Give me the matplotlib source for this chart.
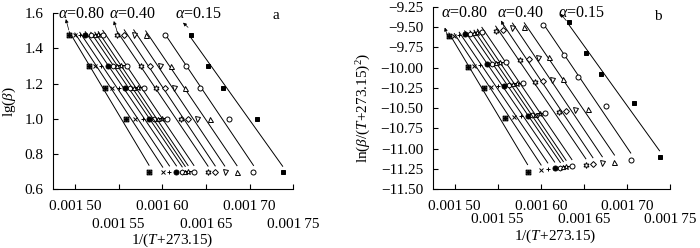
#!/usr/bin/env python
# Kinetic plots: lg(beta) and ln(beta/T^2) against 1/T for several conversions

import matplotlib
matplotlib.use('Agg')
import matplotlib.pyplot as plt
import numpy as np
from matplotlib.path import Path

plt.rcParams['font.family'] = ['Liberation Serif', 'DejaVu Serif']
plt.rcParams['mathtext.fontset'] = 'custom'
plt.rcParams['mathtext.rm'] = 'Liberation Serif'
plt.rcParams['mathtext.it'] = 'Liberation Serif:italic'

# Data
beta = np.array([30, 20, 15, 10, 5])   # heating rates

# 1/(T+273.15) for each conversion, rows in the order of beta
inv_T_080 = [0.0014934, 0.0015160, 0.0015337, 0.0015584, 0.0015847]
inv_T_075 = [0.0014997, 0.0015231, 0.0015426, 0.0015687, 0.0016004]
inv_T_070 = [0.0015054, 0.0015300, 0.0015503, 0.0015775, 0.0016081]
inv_T_065 = [0.0015117, 0.0015380, 0.0015572, 0.0015852, 0.0016161]
inv_T_060 = [0.0015180, 0.0015437, 0.0015626, 0.0015903, 0.0016227]
inv_T_055 = [0.0015226, 0.0015477, 0.0015678, 0.0015945, 0.0016262]
inv_T_050 = [0.0015266, 0.0015523, 0.0015721, 0.0015993, 0.0016294]
inv_T_045 = [0.0015317, 0.0015598, 0.0015789, 0.0016052, 0.0016361]
inv_T_040 = [0.0015477, 0.0015760, 0.0015932, 0.0016208, 0.0016523]
inv_T_035 = [0.0015563, 0.0015859, 0.0016027, 0.0016290, 0.0016605]
inv_T_030 = [0.0015672, 0.0015970, 0.0016132, 0.0016399, 0.0016714]
inv_T_025 = [0.0015809, 0.0016096, 0.0016256, 0.0016551, 0.0016855]
inv_T_020 = [0.0016027, 0.0016271, 0.0016433, 0.0016762, 0.0017044]
inv_T_015 = [0.0016330, 0.0016527, 0.0016695, 0.0017083, 0.0017378]

# staggered tick labels: upper row and lower row
x_ticks_up = [0.00150, 0.00160, 0.00170]
x_labels_up = ['0.001\u200950', '0.001\u200960', '0.001\u200970']
x_ticks_low = [0.00155, 0.00165, 0.00175]
x_labels_low = ['0.001\u200955', '0.001\u200965', '0.001\u200975']
ya_ticks = [0.6, 0.8, 1.0, 1.2, 1.4, 1.6]
yb_ticks = [-11.50, -11.25, -11.00, -10.75, -10.50, -10.25, -10.00,
            -9.75, -9.50, -9.25]


def boxed_star():
    '''square with an asterisk inside'''
    verts = [(-1, -1), (1, -1), (1, 1), (-1, 1), (-1, -1),
             (-1, -1), (1, 1), (-1, 1), (1, -1),
             (0, -1), (0, 1), (-1, 0), (1, 0)]
    codes = [Path.MOVETO, Path.LINETO, Path.LINETO, Path.LINETO, Path.CLOSEPOLY,
             Path.MOVETO, Path.LINETO, Path.MOVETO, Path.LINETO,
             Path.MOVETO, Path.LINETO, Path.MOVETO, Path.LINETO]
    return Path(verts, codes)


# (data, marker, filled, size)
series = [
    (inv_T_080, boxed_star(), False, 3.4),
    (inv_T_075, 'x', False, 3.4),
    (inv_T_070, '+', False, 3.4),
    (inv_T_065, 'o', True, 3.6),
    (inv_T_060, 'h', False, 3.6),
    (inv_T_055, '^', False, 3.0),
    (inv_T_050, '*', False, 4.4),
    (inv_T_045, 'o', False, 3.6),
    (inv_T_040, (6, 1, 0), False, 4.2),
    (inv_T_035, 'D', False, 3.0),
    (inv_T_030, 'v', False, 3.6),
    (inv_T_025, '^', False, 3.6),
    (inv_T_020, 'o', False, 3.6),
    (inv_T_015, 's', True, 3.3),
]


def plotparams(ax, low_pad):
    for side in ['top', 'right']:
        ax.spines[side].set_visible(False)
    for side in ['left', 'bottom']:
        ax.spines[side].set_linewidth(0.8)
    ax.tick_params(which='both', direction='in', length=3.5, width=0.8,
                   labelsize=11)
    ax.tick_params(axis='x', which='major', pad=8)
    ax.tick_params(axis='x', which='minor', pad=low_pad)
    ax.tick_params(axis='y', pad=7)
    ax.set_xlim(0.001475, 0.00175)
    ax.set_xticks(x_ticks_up)
    ax.set_xticklabels(x_labels_up)
    ax.set_xticks(x_ticks_low, minor=True)
    ax.set_xticklabels(x_labels_low, minor=True)
    return ax


def draw_series(ax, ycalc):
    for xs, mk, filled, ms in series:
        x = np.array(xs)
        y = ycalc(x)
        k, b = np.polyfit(x, y, 1)
        xl = np.array([x.min(), x.max()])
        ax.plot(xl, k * xl + b, color='black', lw=0.7)
        ax.plot(x, y, ls='none', marker=mk, ms=ms, mew=0.7,
                mec='black', mfc='black' if filled else 'white')


fig = plt.figure(figsize=(7, 2.48), dpi=100)
ax_a = fig.add_axes([0.0761, 0.2367, 0.3429, 0.7097])
ax_b = fig.add_axes([0.6186, 0.2379, 0.3386, 0.7339])

# Panel a
plotparams(ax_a, 21)
draw_series(ax_a, lambda x: np.log10(beta))
ax_a.set_ylim(0.6, 1.6)
ax_a.set_yticks(ya_ticks)
ax_a.set_yticklabels(['%.1f' % v for v in ya_ticks])
ax_a.set_ylabel(r'lg($\beta$)', fontsize=11)
ax_a.yaxis.label.set_va('center')
ax_a.yaxis.set_label_coords(-0.185, 0.5)
ax_a.set_xlabel(r'1/($T$+273.15)', fontsize=11)
ax_a.xaxis.label.set_va('center')
ax_a.xaxis.set_label_coords(0.497, -0.29)
ax_a.text(0.0017306, 1.585, 'a', fontsize=11, ha='center', va='center')
for txt, tx, hx, hy, sx, sy in [(r'$\alpha$=0.80', 0.0015071, 0.0014894, 1.567, 0.0014928, 1.505),
                                 (r'$\alpha$=0.40', 0.0015655, 0.0015443, 1.556, 0.0015477, 1.505),
                                 (r'$\alpha$=0.15', 0.0016417, 0.0016237, 1.547, 0.0016294, 1.520)]:
    ax_a.text(tx, 1.596, txt, fontsize=11.5, ha='center', va='center')
    ax_a.annotate('', xy=(hx, hy), xytext=(sx, sy),
                  arrowprops=dict(arrowstyle='-|>', lw=0.5, color='black',
                                  mutation_scale=5, shrinkA=0, shrinkB=0))

# Panel b
plotparams(ax_b, 17)
draw_series(ax_b, lambda x: np.log(beta * x ** 2))
ax_b.set_ylim(-11.5, -9.25)
ax_b.set_yticks(yb_ticks)
ax_b.set_yticklabels(['\u2212%.2f' % abs(v) for v in yb_ticks])
ax_b.set_ylabel(r'ln($\beta$/($T$+273.15)$^2$)', fontsize=11)
ax_b.yaxis.label.set_va('center')
ax_b.yaxis.set_label_coords(-0.29, 0.445)
ax_b.set_xlabel(r'1/($T$+273.15)', fontsize=11)
ax_b.xaxis.label.set_va('center')
ax_b.xaxis.set_label_coords(0.515, -0.26)
ax_b.text(0.0017364, -9.367, 'b', fontsize=11, ha='center', va='center')
for txt, tx, hx, hy, sx, sy in [(r'$\alpha$=0.80', 0.0015114, 0.0014886, -9.504, 0.0014923, -9.623),
                                 (r'$\alpha$=0.40', 0.0015762, 0.0015541, -9.417, 0.0015572, -9.491),
                                 (r'$\alpha$=0.15', 0.0016468, 0.0016228, -9.334, 0.0016297, -9.42)]:
    ax_b.text(tx, -9.326, txt, fontsize=11.5, ha='center', va='center')
    ax_b.annotate('', xy=(hx, hy), xytext=(sx, sy),
                  arrowprops=dict(arrowstyle='-|>', lw=0.5, color='black',
                                  mutation_scale=5, shrinkA=0, shrinkB=0))

fig.savefig('out.png', dpi=100)
